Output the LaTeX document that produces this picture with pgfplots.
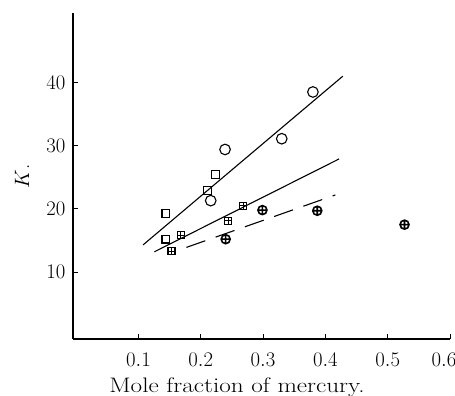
\documentclass[border=0pt]{standalone}
\usepackage{pgfplots}
\pgfplotsset{compat=1.18}
\usetikzlibrary{plotmarks}
\begin{document}
\begin{tikzpicture}
\begin{axis}[
  name=ax,
  scale only axis, width=377pt, height=326pt,
  xmin=-0.005, xmax=0.6, ymin=-0.6, ymax=51,
  axis lines=left,
  axis line style={line width=1.3pt, -},
  xtick={0.1,0.2,0.3,0.4,0.5},
  extra x ticks={0.6},
  extra x tick style={xticklabel style={xshift=-6pt}},
  ytick={10,20,30,40},
  xticklabel style={/pgf/number format/fixed, /pgf/number format/precision=1, /pgf/number format/fixed zerofill, yshift=-11pt},
  yticklabel style={xshift=-4pt},
  tick align=inside, major tick length=5pt,
  tick style={line width=1pt, black},
  tick label style={font=\fontsize{20.5}{23}\selectfont},
  label style={font=\fontsize{21}{24}\selectfont},
  xlabel={\scalebox{1.2}[1]{Mole fraction of mercury.}},
  ylabel={$K$.},
  xlabel style={at={(axis description cs:0.435,0)}, anchor=north, yshift=-35pt},
  ylabel style={at={(axis description cs:0,0.5)}, anchor=center, yshift=51pt},
  clip=false,
]
% fitted lines
\addplot[black, line width=1.1pt] coordinates {(0.1075,14.3) (0.428,41.0)};
\addplot[black, line width=1.1pt] coordinates {(0.1256,13.2) (0.422,27.9)};
\addplot[black, line width=1.1pt, dash pattern=on 20pt off 11pt] coordinates {(0.177,13.9) (0.416,22.2)};
% open circles
\addplot[only marks, mark=o, mark size=5.3pt, line width=1.1pt] coordinates {
(0.380,38.5) (0.330,31.1) (0.239,29.4) (0.216,21.3)};
% open squares
\addplot[only marks, mark=square, mark size=3.8pt, line width=1.1pt] coordinates {
(0.144,19.3) (0.144,15.2) (0.211,22.9) (0.224,25.4)};
% squares with cross
\addplot[only marks, mark=square, mark size=3.5pt, line width=1.1pt] coordinates {
(0.153,13.3) (0.168,15.8) (0.244,18.1) (0.268,20.5)};
\addplot[only marks, mark=+, mark size=3.5pt, line width=1pt] coordinates {
(0.153,13.3) (0.168,15.8) (0.244,18.1) (0.268,20.5)};
% circles with plus
\addplot[only marks, mark=oplus, mark size=4.5pt, line width=1.6pt] coordinates {
(0.240,15.2) (0.299,19.8) (0.387,19.7) (0.527,17.5)};
\end{axis}
\pgfresetboundingbox
\path[use as bounding box] (ax.south west) ++(-73pt,-57pt) rectangle ++(455pt,396pt);
\end{tikzpicture}
\end{document}
